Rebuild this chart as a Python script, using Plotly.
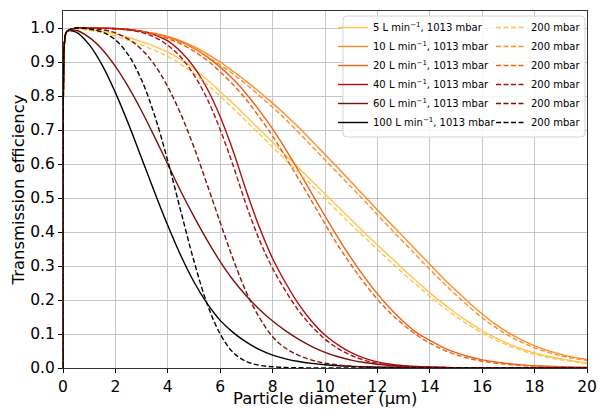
import plotly.graph_objects as go

# Transmission efficiency vs. particle diameter for several flow rates,
# at ambient pressure (1013 mbar, solid) and at 200 mbar (dashed).

# Particle diameters (µm) at which the efficiencies are tabulated
DIAMETER = [0, 0.02, 0.06, 0.15,
            0.5, 1.0, 1.5, 2.0, 2.5, 3.0, 3.5, 4.0, 4.5, 5.0, 5.5, 6.0, 6.5, 7.0, 7.5, 8.0,
            8.5, 9.0, 9.5, 10.0, 10.5, 11.0, 11.5, 12.0, 12.5, 13.0, 13.5, 14.0, 14.5, 15.0,
            15.5, 16.0, 16.5, 17.0, 17.5,
            18, 19, 20]

T_5_1013 = [0, 0.85, 0.96, 0.99,
            0.998, 0.995, 0.99, 0.982, 0.972, 0.96, 0.946, 0.929, 0.907, 0.88, 0.848, 0.813, 0.777, 0.74, 0.702, 0.664,
            0.626, 0.588, 0.55, 0.512, 0.474, 0.436, 0.398, 0.362, 0.326, 0.29, 0.255, 0.221, 0.19, 0.161,
            0.134, 0.11, 0.089, 0.071, 0.056,
            0.044, 0.027, 0.015]
T_5_200 = [0, 0.85, 0.96, 0.99,
           0.997, 0.993, 0.986, 0.976, 0.964, 0.95, 0.934, 0.916, 0.893, 0.866, 0.834, 0.799, 0.763, 0.726, 0.688, 0.65,
           0.612, 0.574, 0.536, 0.498, 0.46, 0.422, 0.385, 0.349, 0.313, 0.278, 0.244, 0.211, 0.18, 0.152,
           0.126, 0.103, 0.083, 0.066, 0.052,
           0.04, 0.024, 0.013]

T_10_1013 = [0, 0.85, 0.96, 0.99,
             1.0, 1.0, 0.9995, 0.998, 0.995, 0.99, 0.984, 0.975, 0.962, 0.945, 0.924, 0.9, 0.872, 0.843, 0.812, 0.779,
             0.744, 0.707, 0.668, 0.628, 0.588, 0.547, 0.506, 0.465, 0.425, 0.385, 0.345, 0.305, 0.265, 0.228,
             0.192, 0.159, 0.129, 0.104, 0.083,
             0.065, 0.04, 0.025]
T_10_200 = [0, 0.85, 0.96, 0.99,
            1.0, 1.0, 0.9995, 0.998, 0.994, 0.989, 0.982, 0.972, 0.958, 0.94, 0.917, 0.892, 0.864, 0.834, 0.801, 0.767,
            0.731, 0.692, 0.652, 0.612, 0.572, 0.532, 0.492, 0.451, 0.41, 0.37, 0.33, 0.29, 0.252, 0.215,
            0.18, 0.148, 0.12, 0.096, 0.076,
            0.059, 0.036, 0.022]

T_20_1013 = [0, 0.85, 0.96, 0.99,
             1.0, 1.0, 0.9995, 0.998, 0.995, 0.99, 0.983, 0.973, 0.959, 0.94, 0.915, 0.885, 0.849, 0.806, 0.757, 0.703,
             0.643, 0.579, 0.513, 0.447, 0.383, 0.323, 0.268, 0.218, 0.174, 0.136, 0.104, 0.081, 0.061, 0.045,
             0.033, 0.024, 0.0175, 0.0127, 0.0092,
             0.0067, 0.0035, 0.0018]
T_20_200 = [0, 0.85, 0.96, 0.99,
            1.0, 1.0, 0.9995, 0.998, 0.994, 0.989, 0.981, 0.969, 0.953, 0.932, 0.905, 0.871, 0.833, 0.789, 0.737, 0.682,
            0.62, 0.555, 0.49, 0.424, 0.36, 0.303, 0.25, 0.202, 0.161, 0.127, 0.097, 0.073, 0.054, 0.039,
            0.028, 0.02, 0.0145, 0.0105, 0.0075,
            0.0055, 0.0028, 0.0014]

T_40_1013 = [0, 0.85, 0.96, 0.99,
             1.0, 1.0, 0.9997, 0.9988, 0.996, 0.9906, 0.98, 0.962, 0.93, 0.885, 0.822, 0.739, 0.637, 0.52, 0.413, 0.322,
             0.25, 0.187, 0.137, 0.097, 0.068, 0.045, 0.029, 0.018, 0.011, 0.007, 0.0045, 0.003, 0.002, 0.001,
             0.0007, 0.0004, 0.0002, 0.0001, 0,
             0, 0, 0]
T_40_200 = [0, 0.85, 0.96, 0.99,
            1.0, 0.9995, 0.999, 0.998, 0.995, 0.987, 0.973, 0.949, 0.914, 0.862, 0.792, 0.701, 0.594, 0.478, 0.376, 0.293,
            0.226, 0.168, 0.122, 0.085, 0.057, 0.037, 0.023, 0.014, 0.008, 0.005, 0.003, 0.002, 0.001, 0.0007,
            0.0004, 0.0002, 0.0001, 0, 0,
            0, 0, 0]

T_60_1013 = [0, 0.85, 0.96, 0.99,
             0.9935, 0.9725, 0.937, 0.887, 0.826, 0.756, 0.679, 0.599, 0.519, 0.445, 0.376, 0.313, 0.258, 0.212, 0.172, 0.138,
             0.109, 0.084, 0.063, 0.046, 0.033, 0.023, 0.016, 0.011, 0.0075, 0.005, 0.0033, 0.0022, 0.0014, 0.0009,
             0.0006, 0.0004, 0.0002, 0.0001, 0,
             0, 0, 0]
T_60_200 = [0, 0.85, 0.96, 0.99,
            1.0, 0.999, 0.995, 0.9855, 0.967, 0.937, 0.891, 0.827, 0.746, 0.649, 0.54, 0.428, 0.319, 0.2225, 0.148, 0.092,
            0.058, 0.037, 0.023, 0.014, 0.009, 0.0055, 0.0035, 0.002, 0.0013, 0.0008, 0.0005, 0.0003, 0.0002, 0.0001,
            0, 0, 0, 0, 0,
            0, 0, 0]

T_100_1013 = [0, 0.85, 0.96, 0.99,
              0.988, 0.951, 0.89, 0.81, 0.7175, 0.617, 0.516, 0.419, 0.33, 0.253, 0.19, 0.14, 0.104, 0.076, 0.054, 0.038,
              0.027, 0.019, 0.0135, 0.0095, 0.0068, 0.0049, 0.0036, 0.0027, 0.002, 0.0015, 0.0011, 0.0008, 0.0006, 0.0004,
              0.0003, 0.0002, 0.0001, 0.0001, 0,
              0, 0, 0]
T_100_200 = [0, 0.85, 0.96, 0.99,
             1.0, 0.997, 0.988, 0.965, 0.92, 0.847, 0.742, 0.609, 0.46, 0.314, 0.189, 0.1, 0.045, 0.019, 0.008, 0.0035,
             0.0015, 0.0007, 0.0003, 0.0001, 0, 0, 0, 0, 0, 0, 0, 0, 0, 0,
             0, 0, 0, 0, 0,
             0, 0, 0]

FLOW_RATES = ["5", "10", "20", "40", "60", "100"]
COLORS = ["#fec44f", "#fd8d2c", "#ec6216", "#b00e0e", "#7a1010", "#000000"]
AMBIENT = [T_5_1013, T_10_1013, T_20_1013, T_40_1013, T_60_1013, T_100_1013]
LOW_P = [T_5_200, T_10_200, T_20_200, T_40_200, T_60_200, T_100_200]

FONT = "DejaVu Sans"

fig = go.Figure()

for flow, color, t in zip(FLOW_RATES, COLORS, AMBIENT):
    fig.add_trace(go.Scatter(
        x=DIAMETER, y=t, mode="lines",
        line=dict(color=color, width=1.4, shape="spline", smoothing=1.0),
        name=f"{flow} L min<sup>\u22121</sup>, 1013 mbar",
        legend="legend", hoverinfo="skip",
    ))
for flow, color, t in zip(FLOW_RATES, COLORS, LOW_P):
    fig.add_trace(go.Scatter(
        x=DIAMETER, y=t, mode="lines",
        line=dict(color=color, width=1.4, dash="5px,2.5px", shape="spline", smoothing=1.0),
        name="200 mbar",
        legend="legend2", hoverinfo="skip",
    ))

W, H = 599, 409
ml, mr, mt, mb = 63, 12, 11, 41
pw, ph = W - ml - mr, H - mt - mb


def px_to_paper(x, y):
    return (x - ml) / pw, (H - mb - y) / ph


# Legend frame shared by both legend columns (rounded rectangle)
x0, x1, y0, y1, r = 343, 585, 16, 137, 4
pts = {
    "a": (x0 + r, y0), "b": (x1 - r, y0), "c": (x1, y0 + r), "d": (x1, y1 - r),
    "e": (x1 - r, y1), "f": (x0 + r, y1), "g": (x0, y1 - r), "h": (x0, y0 + r),
    "tr": (x1, y0), "br": (x1, y1), "bl": (x0, y1), "tl": (x0, y0),
}
P = {k: px_to_paper(*v) for k, v in pts.items()}


def s(k):
    return f"{P[k][0]:.5f},{P[k][1]:.5f}"


frame = (f"M{s('a')} L{s('b')} Q{s('tr')} {s('c')} L{s('d')} Q{s('br')} {s('e')} "
         f"L{s('f')} Q{s('bl')} {s('g')} L{s('h')} Q{s('tl')} {s('a')} Z")
fig.add_shape(type="path", path=frame, xref="paper", yref="paper",
              fillcolor="rgba(255,255,255,0.85)", line=dict(color="#d4d4d4", width=1),
              layer="above")

legend_common = dict(
    bgcolor="rgba(0,0,0,0)", borderwidth=0,
    font=dict(family=FONT, size=10, color="#000"),
    xanchor="left", yanchor="top", tracegroupgap=0,
    itemclick=False, itemdoubleclick=False,
)
lx1, ly = px_to_paper(333, 13)
lx2, _ = px_to_paper(491, 13)

axis_common = dict(
    ticks="outside", ticklen=4, tickwidth=1, tickcolor="#000",
    showgrid=True, gridcolor="#c6c6c6", gridwidth=1,
    showline=True, linecolor="#333", linewidth=1.2, mirror=True,
    zeroline=False, automargin=False,
    tickfont=dict(size=15.5),
)

# x-axis title placed just below the tick labels
_, xt_y = px_to_paper(0, 399)
fig.add_annotation(
    text="Particle diameter (\u00b5m)", xref="paper", yref="paper",
    x=0.5, y=xt_y, xanchor="center", yanchor="middle", showarrow=False,
    borderpad=0,
    font=dict(family=FONT, size=16.4, color="#000"),
)

fig.update_layout(
    width=W, height=H,
    margin=dict(l=ml, r=mr, t=mt, b=mb, pad=0),
    paper_bgcolor="white", plot_bgcolor="white",
    font=dict(family=FONT, size=15.5, color="#000"),
    showlegend=True,
    legend=dict(x=lx1, y=ly, **legend_common),
    legend2=dict(x=lx2, y=ly, **legend_common),
    xaxis=dict(
        range=[0, 20], tickmode="array", tickvals=list(range(0, 21, 2)),
        **axis_common,
    ),
    yaxis=dict(
        range=[0, 1.05], tickmode="array", tickvals=[i / 10 for i in range(11)],
        tickformat=".1f",
        title=dict(text="Transmission efficiency", standoff=1, font=dict(size=16.4)),
        **axis_common,
    ),
)

fig.write_html("out.html")
